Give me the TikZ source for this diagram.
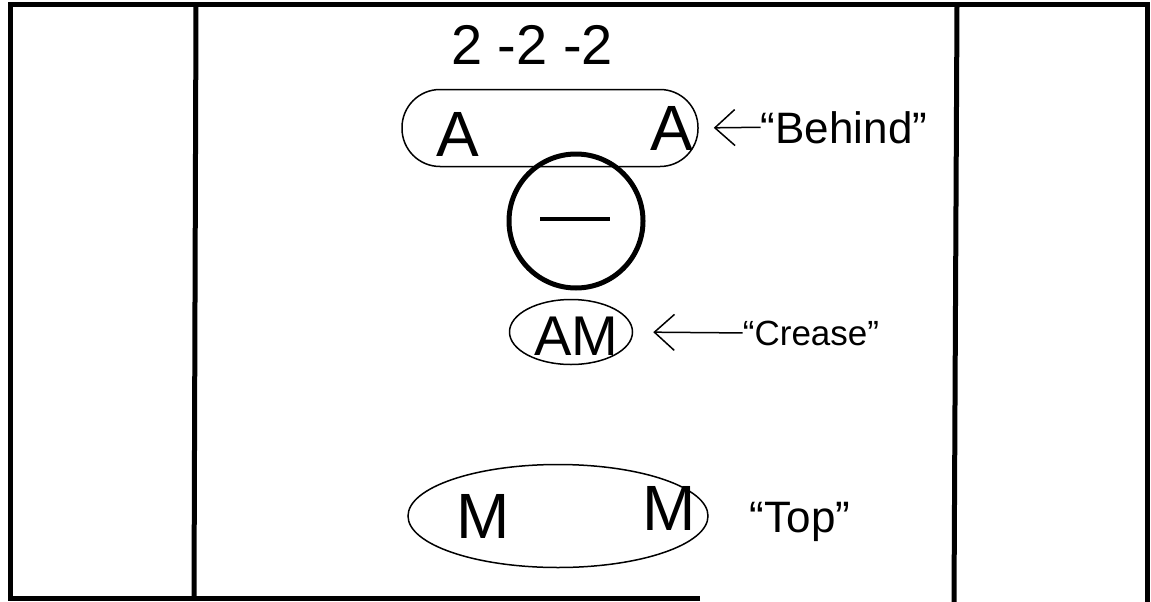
\documentclass[tikz,border=0pt]{standalone}
\usepackage{fontspec}
\setmainfont{Liberation Sans}
\usetikzlibrary{shapes.geometric, arrows.meta}

\begin{document}
\begin{tikzpicture}[x=1pt, y=-1pt,
  frame/.style={line width=5pt},
  blob/.style={draw, line width=1.5pt, inner sep=0pt},
  pointer/.style={-{Straight Barb[length=20pt, width=36pt, line width=1.5pt]}, line width=1.5pt},
  letter/.style={font=\fontsize{64}{64}\selectfont, inner sep=0pt, anchor=base},
  lbl/.style={font=\fontsize{44}{44}\selectfont, inner sep=0pt, anchor=base}]
  \useasboundingbox (0,0) rectangle (1151,602);
  % page frame: three panels
  \draw[frame] (700,598) -- (10,598) -- (10,5) -- (1147,5) -- (1147,602);
  \draw[frame] (196,5) -- (194,598);
  \draw[frame] (957,5) -- (954,602);
  % case title
  \node[lbl, font=\fontsize{56}{56}\selectfont] (title) at (532,65) {2 -2 -2};
  % behind group: A A
  \node[blob, rectangle, rounded corners=38pt, minimum width=296pt, minimum height=77pt] (behindgrp) at (550,128) {};
  \node[letter] (aleft) at (458,156) {A};
  \node[letter] (aright) at (672,150) {A};
  \node[lbl] (behind) at (844,143) {``Behind''};
  \draw[pointer, shorten >=15pt] (behind.west) -- (behindgrp.east);
  % charge: circled minus
  \node[circle, draw, line width=5pt, minimum size=134pt, inner sep=0pt] (charge) at (576,221) {};
  \draw[line width=4pt] ([xshift=-36pt, yshift=2pt]charge.center) -- ([xshift=34pt, yshift=2pt]charge.center);
  % crease group: AM
  \node[blob, ellipse, minimum width=123pt, minimum height=65pt] (creasegrp) at (571,332) {};
  \node[letter, font=\fontsize{56}{56}\selectfont] (am) at (576,355) {AM};
  \node[lbl, font=\fontsize{35}{35}\selectfont] (crease) at (811,345) {``Crease''};
  \draw[pointer, shorten >=20pt] (crease.west) -- (creasegrp.east);
  % top group: M M
  \node[blob, ellipse, minimum width=300pt, minimum height=103pt] (topgrp) at (558,516) {};
  \node[letter] (mleft) at (483,538) {M};
  \node[letter] (mright) at (669,530) {M};
  \node[lbl] (toplbl) at (800,532) {``Top''};
\end{tikzpicture}
\end{document}
